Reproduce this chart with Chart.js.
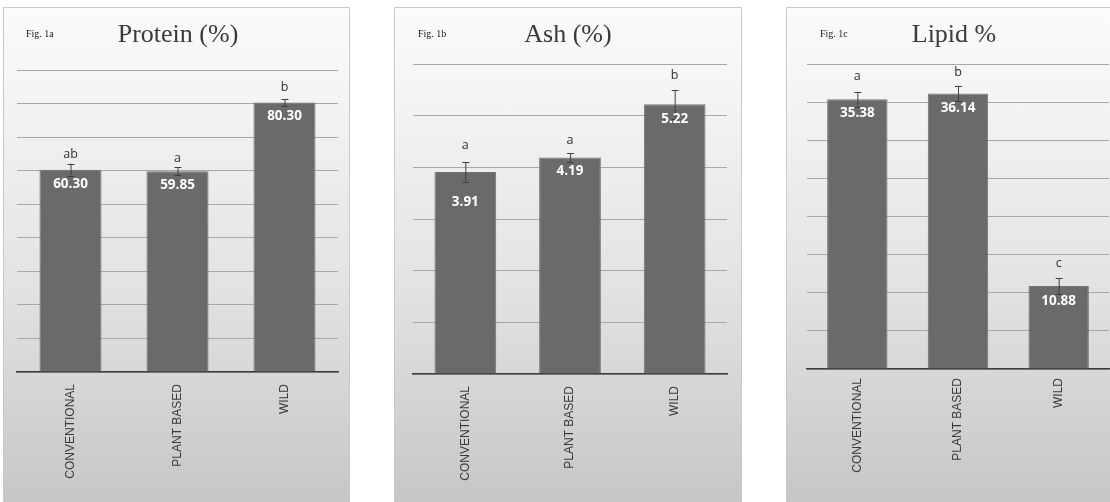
<!DOCTYPE html>
<html>
<head>
<meta charset="utf-8">
<script src="https://cdn.jsdelivr.net/npm/chart.js@4"></script>
<style>
  html, body { margin: 0; padding: 0; background: #ffffff; }
  body { width: 1110px; height: 502px; position: relative; overflow: hidden; }
  .panel {
    position: absolute; box-sizing: border-box;
    border: 1px solid #c9c9c9;
    background: linear-gradient(to bottom, #fbfbfb 0%, #f3f3f3 20%, #e3e3e3 55%, #d3d3d3 80%, #c6c6c6 100%);
  }
  .panel canvas { position: absolute; left: 0; top: 0; }
</style>
</head>
<body>
<div class="panel" id="p1" style="left:3px; top:7px; width:347px; height:500px;"><canvas id="c1"></canvas></div>
<div class="panel" id="p2" style="left:394px; top:7px; width:348px; height:500px;"><canvas id="c2"></canvas></div>
<div class="panel" id="p3" style="left:786px; top:7px; width:330px; height:500px;"><canvas id="c3"></canvas></div>
<script>
// ---------- data ----------
const categories = ["CONVENTIONAL", "PLANT BASED", "WILD"];

const proteinValues = [60.30, 59.85, 80.30];
const proteinErrors = [1.8, 1.2, 1.0];
const proteinLetters = ["ab", "a", "b"];
const proteinTicks = [0, 10, 20, 30, 40, 50, 60, 70, 80, 90];

const ashValues = [3.91, 4.19, 5.22];
const ashErrors = [0.19, 0.08, 0.28];
const ashLetters = ["a", "a", "b"];
const ashTicks = [0, 1, 2, 3, 4, 5, 6];

const lipidValues = [35.38, 36.14, 10.88];
const lipidErrors = [0.97, 1.0, 1.06];
const lipidLetters = ["a", "b", "c"];
const lipidTicks = [0, 5, 10, 15, 20, 25, 30, 35, 40];

const titles = ["Protein (%)", "Ash (%)", "Lipid %"];
const figLabels = ["Fig. 1a", "Fig. 1b", "Fig. 1c"];

// ---------- plugin: error bars, letters, value labels, titles ----------
const annotPlugin = {
  id: 'annot',
  afterDatasetsDraw(chart, args, opts) {
    const ctx = chart.ctx;
    const y = chart.scales.y;
    const meta = chart.getDatasetMeta(0);
    const vals = chart.data.datasets[0].data;
    ctx.save();
    meta.data.forEach((bar, i) => {
      const cx = bar.x;
      const v = vals[i], e = opts.errors[i];
      const yt = y.getPixelForValue(v + e), yb = y.getPixelForValue(v - e);
      ctx.strokeStyle = '#404040';
      ctx.lineWidth = 1;
      ctx.beginPath();
      ctx.moveTo(cx + 0.5, yt); ctx.lineTo(cx + 0.5, yb);
      ctx.moveTo(cx - 3, Math.round(yt) + 0.5); ctx.lineTo(cx + 4, Math.round(yt) + 0.5);
      ctx.moveTo(cx - 3, Math.round(yb) + 0.5); ctx.lineTo(cx + 4, Math.round(yb) + 0.5);
      ctx.stroke();
      // letters
      ctx.fillStyle = '#303030';
      ctx.font = '12.5px "Open Sans", "Liberation Sans", sans-serif';
      ctx.textAlign = 'center';
      ctx.textBaseline = 'middle';
      ctx.fillText(opts.letters[i], cx, yt - opts.letterGap[i]);
      // values
      ctx.fillStyle = '#ffffff';
      ctx.font = 'bold 13.5px "Open Sans", "Liberation Sans", sans-serif';
      ctx.fillText(v.toFixed(2), cx, y.getPixelForValue(v) + opts.valueGap[i]);
    });
    // titles
    ctx.fillStyle = '#3a3a3a';
    ctx.font = '26px "Liberation Serif", "DejaVu Serif", serif';
    ctx.textAlign = 'center';
    ctx.textBaseline = 'middle';
    ctx.fillText(opts.title, opts.titleX, 27);
    ctx.font = '10px "Liberation Serif", "DejaVu Serif", serif';
    ctx.textAlign = 'left';
    ctx.fillStyle = '#222';
    ctx.fillText(opts.fig, opts.figX, 26);
    ctx.restore();
  }
};

function makeChart(id, w, h, values, errors, letters, ticks, cfg) {
  const cv = document.getElementById(id);
  cv.width = w; cv.height = h;
  cv.style.width = w + 'px'; cv.style.height = h + 'px';
  return new Chart(cv, {
    type: 'bar',
    data: {
      labels: categories,
      datasets: [{
        data: values,
        backgroundColor: '#6a6a6a',
        borderColor: '#747474',
        borderWidth: 1,
        categoryPercentage: 1.0,
        barPercentage: cfg.barPct
      }]
    },
    options: {
      responsive: false,
      animation: false,
      devicePixelRatio: 1,
      layout: { padding: { left: cfg.padL, right: cfg.padR, top: cfg.padT, bottom: 0 } },
      plugins: {
        legend: { display: false },
        tooltip: { enabled: false },
        annot: {
          errors: errors, letters: letters,
          letterGap: cfg.letterGap, valueGap: cfg.valueGap,
          title: cfg.title, titleX: cfg.titleX, fig: cfg.fig, figX: cfg.figX
        }
      },
      scales: {
        x: {
          grid: { display: false, drawTicks: false },
          border: { display: true, color: '#3c3c3c', width: 1.5 },
          ticks: {
            minRotation: 90, maxRotation: 90, padding: cfg.tickPad,
            color: '#3a3a3a',
            font: { family: '"Liberation Sans", Arial, sans-serif', size: 12 }
          },
          afterFit(scale) { scale.height = cfg.xH; }
        },
        y: {
          min: ticks[0], max: ticks[ticks.length - 1],
          afterBuildTicks(scale) { scale.ticks = ticks.map(v => ({ value: v })); },
          grid: { color: '#a8a8a8', lineWidth: 1, drawTicks: false },
          border: { display: false },
          ticks: { display: false },
          afterFit(scale) { scale.width = 0; }
        }
      }
    },
    plugins: [annotPlugin]
  });
}

// panel 1 (origin 3,7)
makeChart('c1', 345, 495, proteinValues, proteinErrors, proteinLetters, proteinTicks, {
  barPct: 0.58, padL: 13, padR: 11, padT: 62, xH: 131, tickPad: 12,
  letterGap: [9, 9, 12], valueGap: [14, 14, 14],
  title: titles[0], titleX: 174, fig: figLabels[0], figX: 22
});
// panel 2 (origin 394,7)
makeChart('c2', 346, 495, ashValues, ashErrors, ashLetters, ashTicks, {
  barPct: 0.59, padL: 18, padR: 14, padT: 56, xH: 129, tickPad: 12,
  letterGap: [17, 13, 14], valueGap: [30, 14, 15],
  title: titles[1], titleX: 173, fig: figLabels[1], figX: 23
});
// panel 3 (origin 786,7)
makeChart('c3', 324, 495, lipidValues, lipidErrors, lipidLetters, lipidTicks, {
  barPct: 0.6, padL: 20, padR: 2, padT: 56, xH: 134, tickPad: 9,
  letterGap: [15, 13, 15], valueGap: [14, 15, 15],
  title: titles[2], titleX: 167, fig: figLabels[2], figX: 33
});
</script>
</body>
</html>
